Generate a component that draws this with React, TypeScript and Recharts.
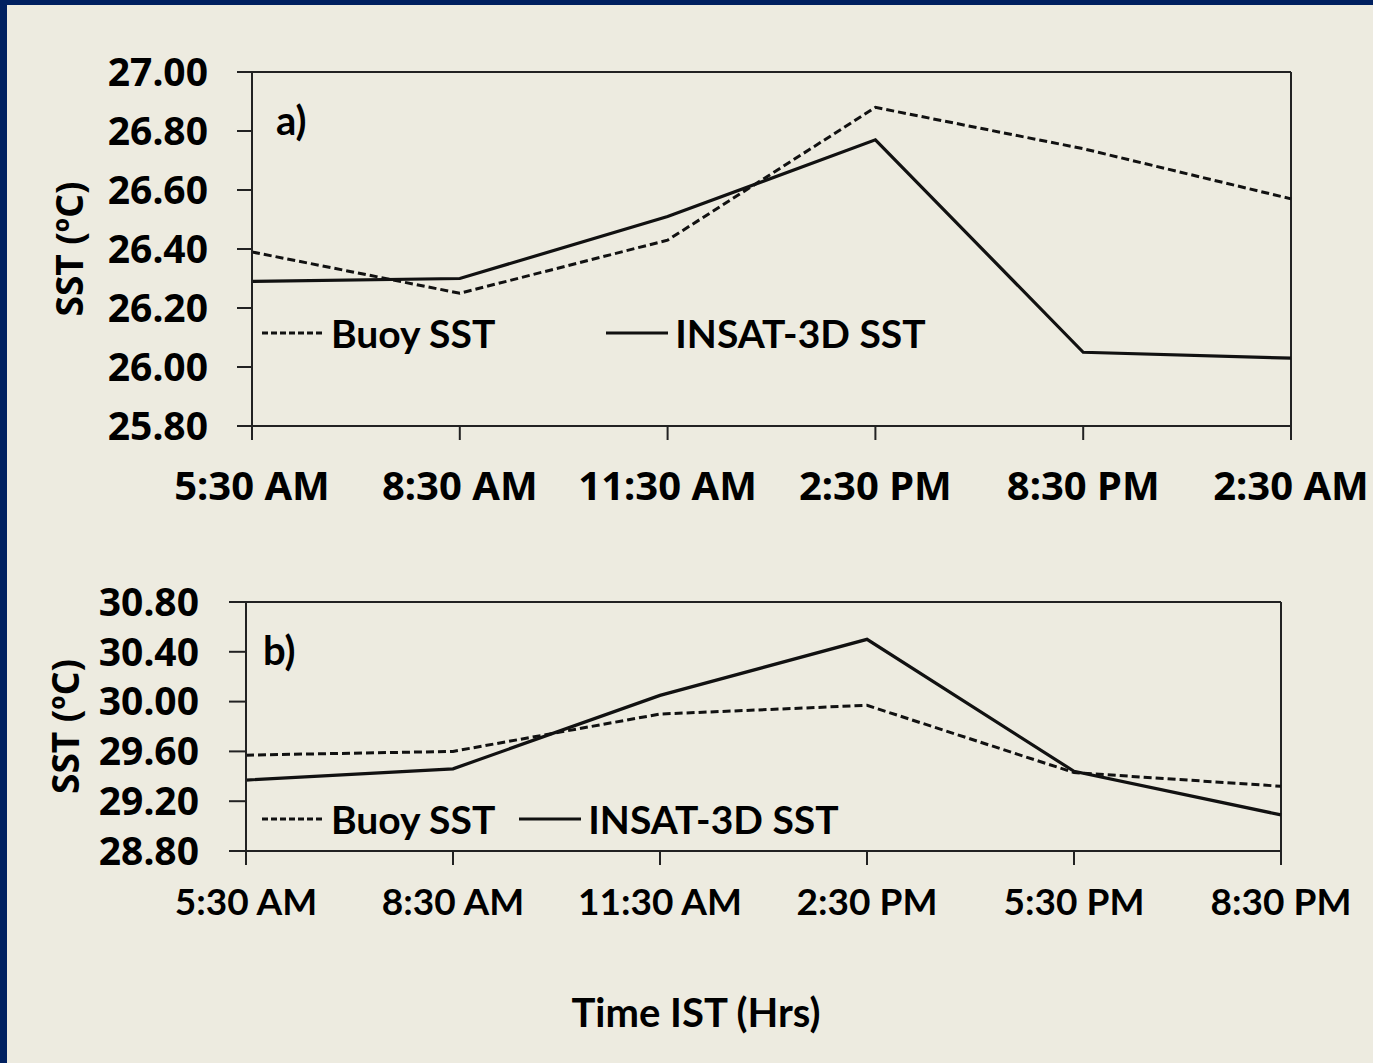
import { LineChart, Line, XAxis, YAxis, ReferenceLine, Legend, Label } from "recharts";

const timesA = ["5:30 AM", "8:30 AM", "11:30 AM", "2:30 PM", "8:30 PM", "2:30 AM"];
const buoyA = [26.39, 26.25, 26.43, 26.88, 26.74, 26.57];
const insatA = [26.29, 26.3, 26.51, 26.77, 26.05, 26.03];
const ticksA = [25.8, 26.0, 26.2, 26.4, 26.6, 26.8, 27.0];

const timesB = ["5:30 AM", "8:30 AM", "11:30 AM", "2:30 PM", "5:30 PM", "8:30 PM"];
const buoyB = [29.57, 29.6, 29.9, 29.97, 29.43, 29.32];
const insatB = [29.37, 29.46, 30.05, 30.5, 29.44, 29.09];
const ticksB = [28.8, 29.2, 29.6, 30.0, 30.4, 30.8];

const tahoma = "'Noto Sans', 'DejaVu Sans', sans-serif";
const calibri = "Lato, 'Open Sans', sans-serif";
const ink = "#111";
const axisStroke = "#222";

const dataA = timesA.map((t, i) => ({ t, buoy: buoyA[i], insat: insatA[i] }));
const dataB = timesB.map((t, i) => ({ t, buoy: buoyB[i], insat: insatB[i] }));

const fmt = (v: number) => v.toFixed(2);

const legendContent = (gap: number) => (props: any) => (
  <div style={{ display: "flex", alignItems: "center", gap }}>
    {(props.payload || []).map((p: any) => (
      <div key={p.value} style={{ display: "flex", alignItems: "center" }}>
        <svg width={62} height={10}>
          <line x1={0} y1={5} x2={62} y2={5} stroke={ink} strokeWidth={3}
            strokeDasharray={p.dataKey === "buoy" ? "6 3" : undefined} />
        </svg>
        <span style={{ marginLeft: 7, font: `700 39px ${calibri}`, lineHeight: "40px", color: "#000" }}>{p.value}</span>
      </div>
    ))}
  </div>
);

const yTitle = (dx: number) => (props: any) => {
  const vb = props.viewBox;
  const cx = vb.x + dx;
  const cy = vb.y + vb.height / 2;
  return (
    <text x={cx} y={cy} transform={`rotate(-90 ${cx} ${cy})`} textAnchor="middle" dominantBaseline="central"
      style={{ font: `700 37px ${tahoma}`, fill: "#000" }}>SST (ºC)</text>
  );
};

export default function App() {
  return (
    <div style={{ position: "absolute", left: 0, top: 0, width: 1373, height: 1063, background: "#002060" }}>
      <div style={{ position: "absolute", left: 7, top: 5, right: 0, bottom: 0, background: "#EDEBE0" }} />

      <div style={{ position: "absolute", left: 0, top: 0 }}>
        <LineChart width={1373} height={540} data={dataA} margin={{ top: 72, right: 82, left: 0, bottom: 0 }}>
          <XAxis dataKey="t" height={114} tickSize={14} tickMargin={32} interval={0}
            axisLine={{ stroke: axisStroke, strokeWidth: 2 }} tickLine={{ stroke: axisStroke, strokeWidth: 2 }}
            tick={{ fill: "#000", fontSize: 40, fontWeight: 700, fontFamily: tahoma }} />
          <YAxis width={252} domain={[25.8, 27]} ticks={ticksA} tickFormatter={fmt} tickSize={15} tickMargin={29}
            interval={0} axisLine={{ stroke: axisStroke, strokeWidth: 2 }} tickLine={{ stroke: axisStroke, strokeWidth: 2 }}
            tick={{ fill: "#000", fontSize: 39, fontWeight: 700, fontFamily: tahoma }}>
            <Label content={yTitle(68)} />
          </YAxis>
          <ReferenceLine y={27} stroke={axisStroke} strokeWidth={2} />
          <ReferenceLine x="2:30 AM" stroke={axisStroke} strokeWidth={2} />
          <Legend layout="horizontal" verticalAlign="middle" align="center" content={legendContent(111)}
            wrapperStyle={{ left: 262, top: 313, width: "auto" }} />
          <Line dataKey="buoy" name="Buoy SST" stroke={ink} strokeWidth={3} strokeDasharray="8 4" dot={false} isAnimationActive={false} />
          <Line dataKey="insat" name="INSAT-3D SST" stroke={ink} strokeWidth={3.2} dot={false} isAnimationActive={false} />
        </LineChart>
      </div>

      <div style={{ position: "absolute", left: 0, top: 540 }}>
        <LineChart width={1373} height={420} data={dataB} margin={{ top: 62, right: 92, left: 0, bottom: 0 }}>
          <XAxis dataKey="t" height={109} tickSize={14} tickMargin={24} interval={0}
            axisLine={{ stroke: axisStroke, strokeWidth: 2 }} tickLine={{ stroke: axisStroke, strokeWidth: 2 }}
            tick={{ fill: "#000", fontSize: 37, fontWeight: 700, fontFamily: calibri }} />
          <YAxis width={246} domain={[28.8, 30.8]} ticks={ticksB} tickFormatter={fmt} tickSize={17} tickMargin={30}
            interval={0} axisLine={{ stroke: axisStroke, strokeWidth: 2 }} tickLine={{ stroke: axisStroke, strokeWidth: 2 }}
            tick={{ fill: "#000", fontSize: 39, fontWeight: 700, fontFamily: tahoma }}>
            <Label content={yTitle(64)} />
          </YAxis>
          <ReferenceLine y={30.8} stroke={axisStroke} strokeWidth={2} />
          <ReferenceLine x="8:30 PM" stroke={axisStroke} strokeWidth={2} />
          <Legend layout="horizontal" verticalAlign="middle" align="center" content={legendContent(24)}
            wrapperStyle={{ left: 262, top: 259, width: "auto" }} />
          <Line dataKey="buoy" name="Buoy SST" stroke={ink} strokeWidth={3} strokeDasharray="8 4" dot={false} isAnimationActive={false} />
          <Line dataKey="insat" name="INSAT-3D SST" stroke={ink} strokeWidth={3.2} dot={false} isAnimationActive={false} />
        </LineChart>
      </div>

      <div style={{ position: "absolute", left: 276, top: 96, font: `700 40px ${calibri}`, lineHeight: "48px", color: "#000" }}>a)</div>
      <div style={{ position: "absolute", left: 263, top: 626, font: `700 40px ${calibri}`, lineHeight: "48px", color: "#000" }}>b)</div>
      <div style={{ position: "absolute", left: 496, width: 400, top: 988, textAlign: "center", font: `700 40px ${calibri}`, lineHeight: "48px", color: "#000" }}>
        Time IST (Hrs)
      </div>
    </div>
  );
}
